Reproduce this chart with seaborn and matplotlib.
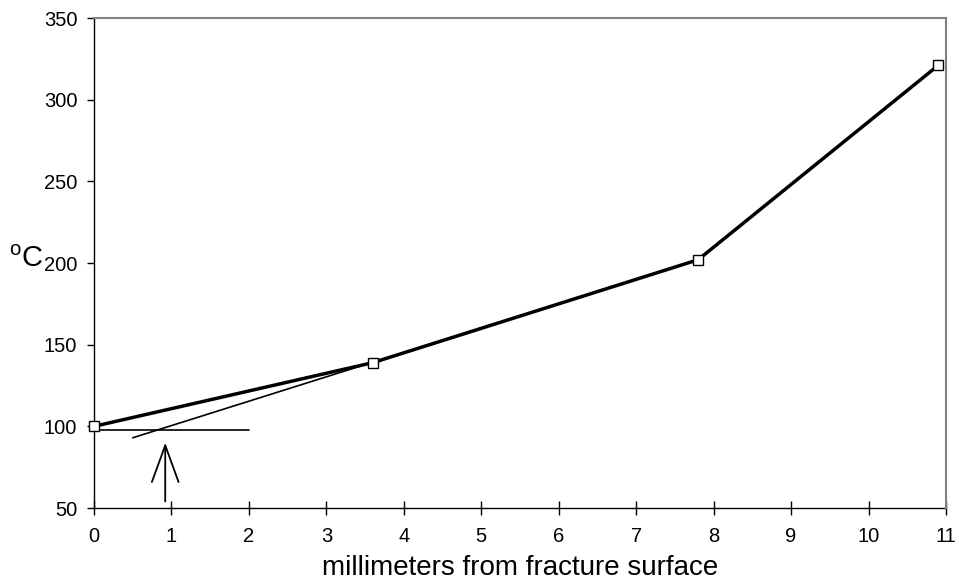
import matplotlib
matplotlib.use("Agg")
import matplotlib.pyplot as plt
import seaborn as sns
import pandas as pd

# Data
distance_mm = [0.0, 3.6, 7.8, 10.9]
temperature_c = [100, 139, 202, 321]

# Construction lines
baseline_x = [0.0, 2.0]
baseline_y = [98, 98]
tangent_x = [0.5, 7.8]
tangent_y = [93, 202]
arrow_x = 0.92
arrow_y_from = 54
arrow_y_to = 90

x_ticks = list(range(0, 12))
y_ticks = [50, 100, 150, 200, 250, 300, 350]

sns.set_theme(style="white")
plt.rcParams["font.family"] = ["Liberation Sans", "DejaVu Sans"]
plt.rcParams["mathtext.fontset"] = "custom"
plt.rcParams["mathtext.rm"] = "Liberation Sans"
plt.rcParams["text.color"] = "black"
plt.rcParams["axes.labelcolor"] = "black"
plt.rcParams["xtick.color"] = "black"
plt.rcParams["ytick.color"] = "black"

fig = plt.figure(figsize=(9.59, 5.81), dpi=100)
ax = fig.add_axes([0.098, 0.1256, 0.8884, 0.8434])

df = pd.DataFrame({"x": distance_mm, "y": temperature_c})
sns.lineplot(data=df, x="x", y="y", ax=ax, color="black", linewidth=2.5,
             marker="s", markersize=6.5, markerfacecolor="white",
             markeredgecolor="black", markeredgewidth=1.0, zorder=5,
             clip_on=False)

sns.lineplot(x=baseline_x, y=baseline_y, ax=ax, color="black", linewidth=1.2)
sns.lineplot(x=tangent_x, y=tangent_y, ax=ax, color="black", linewidth=1.2)

ax.annotate("", xy=(arrow_x, arrow_y_to), xytext=(arrow_x, arrow_y_from),
            arrowprops=dict(arrowstyle="->,head_length=2.2,head_width=0.8",
                            color="black", linewidth=1.3, shrinkA=0, shrinkB=0))

ax.set_xlim(0, 11)
ax.set_ylim(50, 350)
ax.set_xticks(x_ticks)
ax.set_yticks(y_ticks)
ax.set_xticklabels([str(v) for v in x_ticks], fontsize=14.5)
ax.set_yticklabels([str(v) for v in y_ticks], fontsize=14.5)

ax.tick_params(axis="x", direction="inout", length=10, width=1, color="black", pad=9)
ax.tick_params(axis="y", direction="out", length=5, width=1, color="black", pad=7)
ax.tick_params(left=True, bottom=True)

for side in ["left", "bottom"]:
    ax.spines[side].set_color("black")
    ax.spines[side].set_linewidth(1.0)
    ax.spines[side].set_zorder(2)
for side in ["top", "right"]:
    ax.spines[side].set_color("#808080")
    ax.spines[side].set_linewidth(1.5)

ax.set_xlabel("millimeters from fracture surface", fontsize=20, labelpad=6)
ax.set_ylabel(r"$^{\rm o}$C", fontsize=21, rotation=0, labelpad=0)
ax.yaxis.set_label_coords(-0.08, 0.48)

fig.savefig("out.png", dpi=100)
